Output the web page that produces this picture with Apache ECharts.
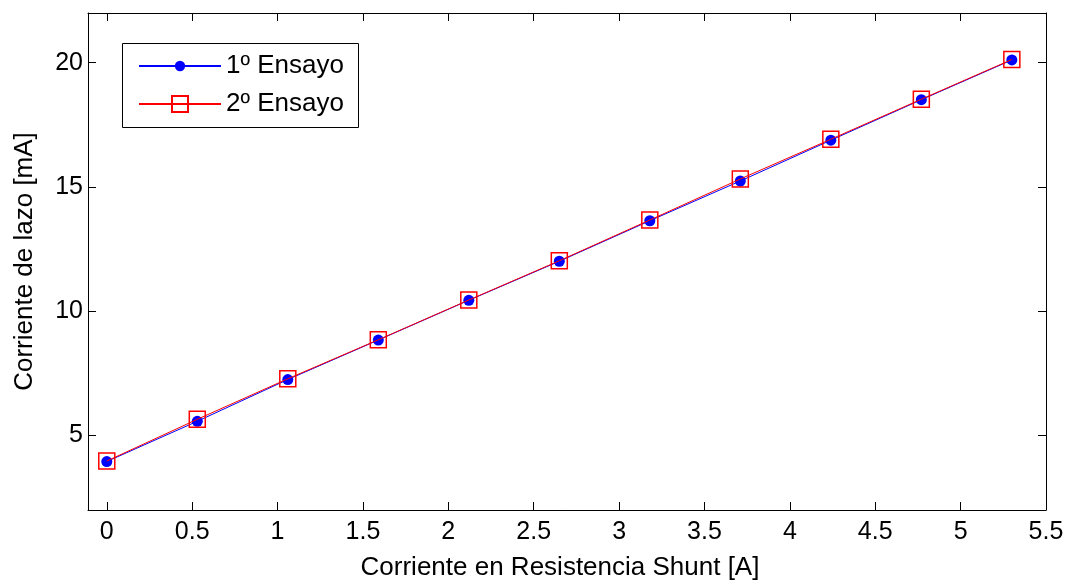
<!DOCTYPE html>
<html>
<head>
<meta charset="utf-8">
<script src="https://cdn.jsdelivr.net/npm/echarts@6/dist/echarts.min.js"></script>
<style>
html,body{margin:0;padding:0;background:#fff;}
#main{width:1072px;height:586px;}
</style>
</head>
<body>
<div id="main"></div>
<script>
const xValues = [0, 0.53, 1.06, 1.59, 2.12, 2.65, 3.18, 3.71, 4.24, 4.77, 5.30];
const ensayo1 = [3.95, 5.57, 7.25, 8.84, 10.44, 12.01, 13.64, 15.24, 16.88, 18.51, 20.11];
const ensayo2 = [3.97, 5.65, 7.28, 8.85, 10.45, 12.03, 13.67, 15.32, 16.92, 18.53, 20.13];
const xTicks = [0, 0.5, 1, 1.5, 2, 2.5, 3, 3.5, 4, 4.5, 5, 5.5];
const yTicks = [5, 10, 15, 20];
const seriesNames = ['1º Ensayo', '2º Ensayo'];
const xTitle = 'Corriente en Resistencia Shunt [A]';
const yTitle = 'Corriente de lazo [mA]';

const FONT = "'Liberation Sans', Arial, sans-serif";
const FS = 25;

const pairs = arr => xValues.map((x, i) => [x, arr[i]]);

const tickCommon = {show: true, inside: true, length: 8, lineStyle: {color: '#000', width: 1}};

const chart = echarts.init(document.getElementById('main'), null, {renderer: 'canvas'});
chart.setOption({
  backgroundColor: '#fff',
  animation: false,
  grid: {left: 88, right: 26, top: 13, bottom: 74, containLabel: false},
  graphic: [{
    type: 'rect',
    left: 122, top: 43,
    shape: {width: 236, height: 84},
    style: {fill: '#fff', stroke: '#000', lineWidth: 1},
    z: 90
  }],
  legend: [{
    data: [{name: seriesNames[0]}],
    left: 138, top: 53,
    padding: 0,
    itemWidth: 82, itemHeight: 13,
    textStyle: {fontFamily: FONT, fontSize: 26, color: '#000', lineHeight: 26},
    z: 100
  }, {
    data: [{name: seriesNames[1]}],
    left: 138, top: 91,
    padding: 0,
    itemWidth: 82, itemHeight: 20,
    textStyle: {fontFamily: FONT, fontSize: 26, color: '#000', lineHeight: 26},
    z: 100
  }],
  xAxis: [{
    type: 'value', position: 'bottom',
    min: -0.11, max: 5.5,
    name: xTitle, nameLocation: 'middle', nameGap: 45,
    nameTextStyle: {fontFamily: FONT, fontSize: 26, color: '#000', padding: [0, 14, 0, 0]},
    axisLine: {show: true, onZero: false, lineStyle: {color: '#000', width: 1}},
    axisTick: Object.assign({customValues: xTicks}, tickCommon),
    axisLabel: {customValues: xTicks, fontFamily: FONT, fontSize: FS, color: '#000', margin: 10},
    splitLine: {show: false}
  }, {
    type: 'value', position: 'top',
    min: -0.11, max: 5.5,
    axisLine: {show: true, onZero: false, lineStyle: {color: '#000', width: 1}},
    axisTick: Object.assign({customValues: xTicks}, tickCommon),
    axisLabel: {show: false},
    splitLine: {show: false}
  }],
  yAxis: [{
    type: 'value', position: 'left',
    min: 2, max: 22,
    name: yTitle, nameLocation: 'middle', nameGap: 50,
    nameTextStyle: {fontFamily: FONT, fontSize: 26, color: '#000'},
    axisLine: {show: true, onZero: false, lineStyle: {color: '#000', width: 1}},
    axisTick: Object.assign({customValues: yTicks}, tickCommon),
    axisLabel: {customValues: yTicks, fontFamily: FONT, fontSize: FS, color: '#000', margin: 5},
    splitLine: {show: false}
  }, {
    type: 'value', position: 'right',
    min: 2, max: 22,
    axisLine: {show: true, onZero: false, lineStyle: {color: '#000', width: 1}},
    axisTick: Object.assign({customValues: yTicks}, tickCommon),
    axisLabel: {show: false},
    splitLine: {show: false}
  }],
  series: [{
    name: seriesNames[0],
    type: 'line',
    xAxisIndex: 0, yAxisIndex: 0,
    data: pairs(ensayo1),
    symbol: 'circle', symbolSize: 11,
    showAllSymbol: true,
    lineStyle: {color: '#0000ff', width: 1},
    itemStyle: {color: '#0000ff', borderWidth: 0},
    emphasis: {disabled: true},
    z: 2
  }, {
    name: seriesNames[1],
    type: 'line',
    xAxisIndex: 0, yAxisIndex: 0,
    data: pairs(ensayo2),
    symbol: 'rect', symbolSize: 16,
    showAllSymbol: true,
    lineStyle: {color: '#ff0000', width: 1},
    itemStyle: {color: 'rgba(255,255,255,0)', borderColor: '#ff0000', borderWidth: 1.5},
    emphasis: {disabled: true},
    z: 3
  }]
});
</script>
</body>
</html>
